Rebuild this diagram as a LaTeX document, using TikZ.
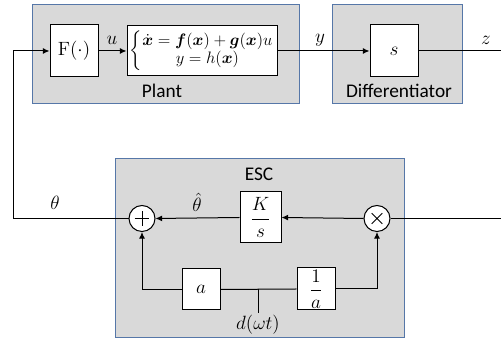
\documentclass[tikz,border=0pt]{standalone}
\usepackage{amsmath}
\usepackage{graphicx}
\usepackage[no-math]{fontspec}
\setmainfont{Carlito}
\usetikzlibrary{arrows.meta}
\definecolor{panelfill}{HTML}{D9D9D9}
\definecolor{panelline}{HTML}{5677A8}
\tikzset{
  panel/.style={draw=panelline, fill=panelfill, line width=0.75pt, inner sep=0pt},
  blockbox/.style={draw=black, fill=white, line width=0.75pt, inner sep=0pt, font=\fontsize{14}{16}\selectfont},
  junc/.style={circle, draw=black, fill=white, line width=0.75pt, minimum size=19.5pt, inner sep=0pt},
  conn/.style={line width=0.75pt},
  arr/.style={conn, -{Latex[length=5pt,width=4.5pt]}},
  lbl/.style={font=\fontsize{14}{16}\selectfont, inner sep=0pt},
  ttl/.style={font=\fontsize{14.5}{16}\selectfont, inner sep=0pt},
}
\begin{document}
\begin{tikzpicture}[x=0.75pt,y=-0.75pt]
\useasboundingbox (0,0) rectangle (501,341);
% panels
\node[panel, minimum width=200.25pt, minimum height=74.25pt] (plant) at (165.5,54.5) {};
\node[panel, minimum width=97.5pt, minimum height=74.25pt] (diff) at (397,54.5) {};
\node[panel, minimum width=216.75pt, minimum height=134.25pt] (esc) at (259.5,248.5) {};
\node[ttl] (plantlbl) at (162,91) {Plant};
\node[ttl] (difflbl) at (399,91) {Differentiator};
\node[ttl] (esclbl) at (259,174) {ESC};
% top row blocks
\node[blockbox, minimum width=36pt, minimum height=39pt] (F) at (74,51) {$\mathrm{F}(\cdot)$};
\node[blockbox, minimum width=112.5pt, minimum height=37.5pt, font=\fontsize{12}{14}\selectfont] (sys) at (202,51)
  {\resizebox{108pt}{!}{$\left\{\begin{array}{@{}c@{}}\dot{\boldsymbol{x}} = \boldsymbol{f}(\boldsymbol{x}) + \boldsymbol{g}(\boldsymbol{x})u\\[-1pt] y = h(\boldsymbol{x})\end{array}\right.$}};
\node[blockbox, minimum width=36pt, minimum height=39pt] (S) at (394,51) {$s$};
\coordinate (zend) at (501,51);
% ESC blocks
\node[junc] (sum) at (142,218.5) {};
\draw[conn] ([xshift=-5.5pt]sum.center) -- ([xshift=5.5pt]sum.center) ([yshift=-5.5pt]sum.center) -- ([yshift=5.5pt]sum.center);
\node[junc] (mult) at (377,218.5) {};
\draw[conn] ([shift={(-4pt,-4pt)}]mult.center) -- ([shift={(4pt,4pt)}]mult.center) ([shift={(-4pt,4pt)}]mult.center) -- ([shift={(4pt,-4pt)}]mult.center);
\node[blockbox, minimum width=30.75pt, minimum height=38.25pt] (int) at (260.5,217.5) {$\dfrac{K}{s}$};
\node[blockbox, minimum width=28.5pt, minimum height=30.75pt] (A) at (201,289.5) {$a$};
\node[blockbox, minimum width=28.5pt, minimum height=31.5pt] (invA) at (316,289) {$\dfrac{1}{a}$};
\coordinate (zin) at (501,218.5);
\coordinate (fbc) at (13,218.5);
\coordinate (jn) at (258,289);
\coordinate (jd) at (258,313);
% connectors
\draw[arr] (sum.west) -- (fbc) |- (F.west);
\draw[arr] (F.east) -- (sys.west);
\draw[arr] (sys.east) -- (S.west);
\draw[conn] (S.east) -- (zend);
\draw[conn] (zin) -- (mult.east);
\draw[arr] (mult.west) -- (int.east);
\draw[arr] (int.west) -- (sum.east);
\draw[arr] (A.west) -| (sum.south);
\draw[arr] (invA.east) -| (mult.south);
\draw[conn] (A.east) -- (invA.west);
\draw[conn] (jn) -- (jd);
% labels
\node[lbl] (ul) at (112,40) {$u$};
\node[lbl] (yl) at (320,40) {$y$};
\node[lbl] (zl) at (486,40) {$z$};
\node[lbl] (thl) at (55,203) {$\theta$};
\node[lbl] (thh) at (197,202) {$\hat{\theta}$};
\node[lbl] (dl) at (258,325) {$d(\omega t)$};
\end{tikzpicture}
\end{document}
